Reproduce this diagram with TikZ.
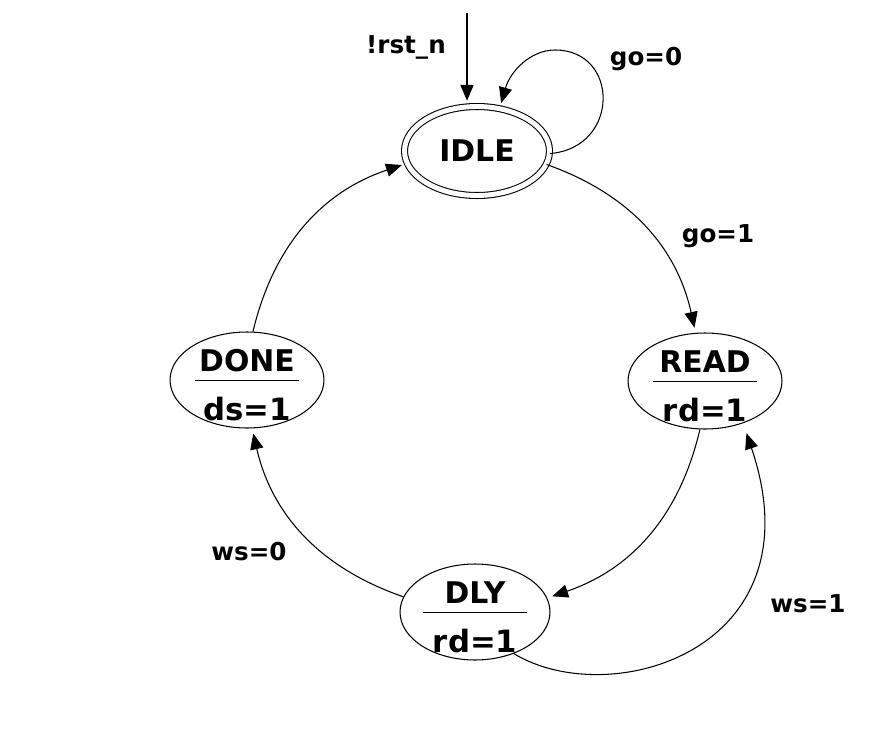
\documentclass[tikz,border=0pt]{standalone}
\usepackage{fontspec}
\setmainfont{DejaVu Sans}
\usepackage{tikz}
\usetikzlibrary{arrows.meta,shapes.geometric}
\setlength{\arrayrulewidth}{0.6pt}
% state text: output name over its value, split by a fixed-width rule
\newcommand{\moore}[2]{\smash{\raisebox{-23pt}{\renewcommand{\arraystretch}{0.5}%
  \begin{tabular}[b]{@{}c@{}}\rule[-4.5pt]{0pt}{24pt}\makebox[2.08cm]{#1}\\\hline
  \rule[-4.5pt]{0pt}{27pt}{\fontsize{17.5}{21}\selectfont #2}\end{tabular}}}}

\begin{document}
\begin{tikzpicture}[x=0.02cm,y=0.02cm,
  state/.style={draw,ellipse,line width=0.6pt,inner sep=0pt,minimum width=3.08cm,
    minimum height=1.92cm,font=\fontsize{17}{20}\selectfont\bfseries},
  lbl/.style={font=\fontsize{14}{17}\selectfont\bfseries,anchor=base},
  trans/.style={line width=0.6pt,-{Triangle[length=9pt,width=7.5pt]},shorten >=3pt}]
  \useasboundingbox (0,0) rectangle (892,-730);
  \node[state,double,double distance=2.8pt,minimum width=2.9cm,minimum height=1.78cm] (idle) at (477,-151) {IDLE};
  \node[state] (read) at (705,-381) {\moore{READ}{rd=1}};
  \node[state,minimum width=3cm] (dly) at (475,-612) {\moore{DLY}{rd=1}};
  \node[state] (done) at (247,-380) {\moore{DONE}{ds=1}};
  % reset entry
  \coordinate (rst) at (467,-13);
  \draw[trans] (rst) -- (rst |- idle.north);
  \node[lbl] (rstlbl) at (406,-53) {!rst\_n};
  % transitions round the ring
  \draw[trans] (idle.-2) .. controls (620,-148) and (620,-50) .. (555,-50)
    .. controls (530,-50) and (510,-72) .. (idle.62);
  \draw[trans] (idle.-11) to[bend left=29] (read.101);
  \draw[trans] (read.-96) to[bend left=29] (dly.11);
  \draw[trans] (dly.168) to[bend left=29] (done.-84);
  \draw[trans] (done.83) to[bend left=29] (idle.190);
  \draw[trans,shorten >=6pt] (dly.-47) .. controls (610,-712) and (820,-650) .. (read.-48);
  \node[lbl] (go0) at (646,-65) {go=0};
  \node[lbl] (go1) at (718,-242) {go=1};
  \node[lbl] (ws0) at (249,-560) {ws=0};
  \node[lbl] (ws1) at (808,-612) {ws=1};
\end{tikzpicture}
\end{document}
